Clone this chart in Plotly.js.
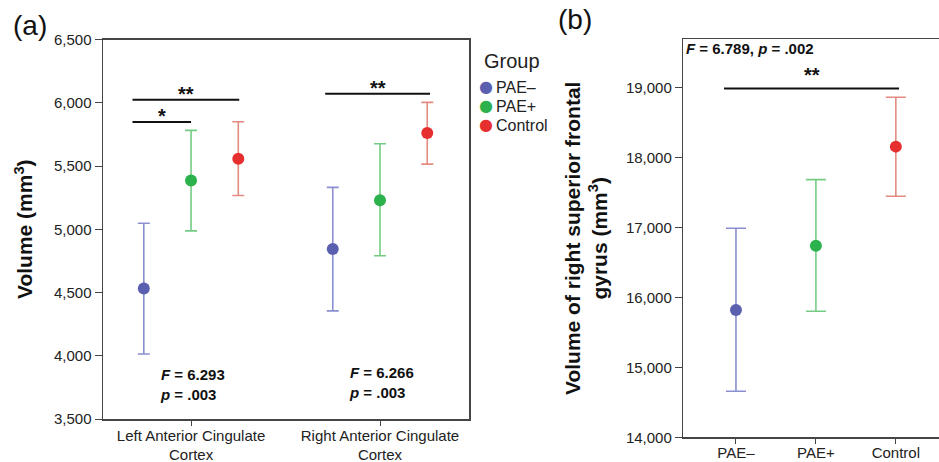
<!DOCTYPE html>
<html>
<head>
<meta charset="utf-8">
<script src="https://cdn.plot.ly/plotly-3.0.1.min.js"></script>
<style>html,body{margin:0;padding:0;background:#fff;}#chart{width:939px;height:462px;}</style>
</head>
<body>
<div id="chart"></div>
<script>
// ---------- data ----------
const groups = ['PAE\u2013', 'PAE+', 'Control'];
const regionsA = ['Left Anterior Cingulate<br>Cortex', 'Right Anterior Cingulate<br>Cortex'];

// Panel (a): volume (mm3), mean and error-bar ends per region
const aMeanPAEminus  = [4532, 4843];
const aUpperPAEminus = [5048, 5331];
const aLowerPAEminus = [4014, 4355];
const aMeanPAEplus   = [5386, 5230];
const aUpperPAEplus  = [5782, 5676];
const aLowerPAEplus  = [4987, 4790];
const aMeanControl   = [5557, 5760];
const aUpperControl  = [5850, 6003];
const aLowerControl  = [5267, 5515];

// Panel (b): right superior frontal gyrus
const bMean  = [15821, 16741, 18157];
const bUpper = [16990, 17685, 18864];
const bLower = [14658, 15803, 17448];

// significance brackets, panel (a)
const sigAx0 = [-0.31, -0.31, 0.71];
const sigAx1 = [0.0, 0.255, 1.265];
const sigAy  = [5847, 6024, 6071];
const sigAlabel = ['*', '**', '**'];
// significance bracket, panel (b)
const sigBx0 = [-0.15];
const sigBx1 = [2.04];
const sigBy  = [18990];
const sigBlabel = ['**'];

const statsA = ['<b><i>F</i> = 6.293</b><br><b><i>p</i> = .003</b>', '<b><i>F</i> = 6.266</b><br><b><i>p</i> = .003</b>'];
const statsB = '<b><i>F</i> = 6.789, <i>p</i> = .002</b>';
const legendTitle = 'Group';

// ---------- styles ----------
const markerColors = ['#5a5fb0', '#2bb24c', '#e63030'];
const barColors = ['#8a8fd2', '#74cc84', '#e58a80'];
const FONT = 'Liberation Sans, Arial, Helvetica, sans-serif';
const offsets = [-0.25, 0, 0.25];

const aMeans = [aMeanPAEminus, aMeanPAEplus, aMeanControl];
const aUppers = [aUpperPAEminus, aUpperPAEplus, aUpperControl];
const aLowers = [aLowerPAEminus, aLowerPAEplus, aLowerControl];

const traces = [];
groups.forEach((g, gi) => {
  const xs = aMeans[gi].map((_, ri) => ri + offsets[gi]);
  traces.push({
    type: 'scatter', mode: 'markers', name: g, legendgroup: g, showlegend: false,
    x: xs, y: aMeans[gi],
    marker: {color: markerColors[gi], size: 12},
    error_y: {type: 'data', symmetric: false,
      array: aUppers[gi].map((u, i) => u - aMeans[gi][i]),
      arrayminus: aMeans[gi].map((m, i) => m - aLowers[gi][i]),
      color: barColors[gi], thickness: 1.6, width: 6},
    xaxis: 'x', yaxis: 'y'
  });
});
groups.forEach((g, gi) => {
  traces.push({
    type: 'scatter', mode: 'markers', name: g, legendgroup: g, showlegend: false,
    x: [gi], y: [bMean[gi]],
    marker: {color: markerColors[gi], size: 12},
    error_y: {type: 'data', symmetric: false,
      array: [bUpper[gi] - bMean[gi]],
      arrayminus: [bMean[gi] - bLower[gi]],
      color: barColors[gi], thickness: 1.6, width: 10},
    xaxis: 'x2', yaxis: 'y2'
  });
});

const shapes = [];
const annotations = [];
sigAx0.forEach((x0, i) => {
  shapes.push({type: 'line', xref: 'x', yref: 'y', x0: x0, x1: sigAx1[i], y0: sigAy[i], y1: sigAy[i],
    line: {color: '#111', width: 2}});
  annotations.push({xref: 'x', yref: 'y', x: (x0 + sigAx1[i]) / 2, y: sigAy[i], text: '<b>' + sigAlabel[i] + '</b>',
    showarrow: false, yanchor: 'bottom', yshift: -7, font: {family: FONT, size: 20, color: '#111'}});
});
sigBx0.forEach((x0, i) => {
  shapes.push({type: 'line', xref: 'x2', yref: 'y2', x0: x0, x1: sigBx1[i], y0: sigBy[i], y1: sigBy[i],
    line: {color: '#111', width: 2}});
  annotations.push({xref: 'x2', yref: 'y2', x: (x0 + sigBx1[i]) / 2, y: sigBy[i], text: '<b>' + sigBlabel[i] + '</b>',
    showarrow: false, yanchor: 'bottom', yshift: 0, font: {family: FONT, size: 20, color: '#111'}});
});
annotations.push({xref: 'x', yref: 'y', x: -0.175, y: 3775, text: statsA[0], align: 'left', xanchor: 'left',
  showarrow: false, font: {family: FONT, size: 15, color: '#111'}});
annotations.push({xref: 'x', yref: 'y', x: 0.825, y: 3787, text: statsA[1], align: 'left', xanchor: 'left',
  showarrow: false, font: {family: FONT, size: 15, color: '#111'}});
annotations.push({xref: 'x2 domain', yref: 'y2 domain', x: 0, y: 1, xanchor: 'left', yanchor: 'top', xshift: 1, yshift: 1,
  text: statsB, showarrow: false, font: {family: FONT, size: 15, color: '#111'}});
annotations.push({xref: 'paper', yref: 'paper', x: 11 / 939, y: 1 - 25 / 462, xanchor: 'left', yanchor: 'middle',
  text: '(a)', showarrow: false, font: {family: FONT, size: 28, color: '#111'}});
annotations.push({xref: 'paper', yref: 'paper', x: 556 / 939, y: 1 - 19.5 / 462, xanchor: 'left', yanchor: 'middle',
  text: '(b)', showarrow: false, font: {family: FONT, size: 28, color: '#111'}});

// legend (drawn as text)
annotations.push({xref: 'paper', yref: 'paper', x: 482 / 939, y: 1 - 61 / 462, xanchor: 'left', yanchor: 'middle',
  text: legendTitle, showarrow: false, font: {family: FONT, size: 20, color: '#222'}});
const legendRowY = [87, 106.5, 126];
groups.forEach((g, gi) => {
  annotations.push({xref: 'paper', yref: 'paper', x: 486 / 939, y: 1 - legendRowY[gi] / 462, xanchor: 'center', yanchor: 'middle',
    text: '\u25CF', showarrow: false, yshift: 1, font: {family: 'DejaVu Sans', size: 16, color: markerColors[gi]}});
  annotations.push({xref: 'paper', yref: 'paper', x: 494 / 939, y: 1 - legendRowY[gi] / 462, xanchor: 'left', yanchor: 'middle',
    text: g, showarrow: false, font: {family: FONT, size: 16, color: '#222'}});
});

const axLine = '#454545';
const tickFont = {family: FONT, size: 15, color: '#222'};
const layout = {
  width: 939, height: 462,
  margin: {l: 0, r: 0, t: 0, b: 0},
  paper_bgcolor: '#fff', plot_bgcolor: '#fff',
  font: {family: FONT, color: '#111'},
  showlegend: false,
  xaxis: {domain: [103 / 939, 469 / 939], range: [-0.466, 1.471], tickvals: [0, 1], ticktext: regionsA,
    showgrid: false, zeroline: false, showline: true, mirror: true, linecolor: axLine, linewidth: 1.5,
    ticks: 'outside', ticklen: 5, tickcolor: axLine, tickfont: tickFont, anchor: 'y', ticklabelstandoff: -3},
  yaxis: {domain: [43 / 462, 422.5 / 462], range: [3500, 6500], tickvals: [3500, 4000, 4500, 5000, 5500, 6000, 6500],
    tickformat: ',', showgrid: false, zeroline: false, showline: true, mirror: true, linecolor: axLine, linewidth: 1.5,
    ticks: 'outside', ticklen: 7, tickcolor: axLine, tickfont: tickFont, anchor: 'x',
    title: {text: '<b>Volume (mm<sup>3</sup>)</b>', font: {family: FONT, size: 21, color: '#111'}, standoff: 15}},
  xaxis2: {domain: [683.3 / 939, 1], range: [-0.659, 2.54], tickvals: [0, 1, 2], ticktext: groups,
    showgrid: false, zeroline: false, showline: true, mirror: true, linecolor: axLine, linewidth: 1.5,
    ticks: 'outside', ticklen: 5, tickcolor: axLine, tickfont: tickFont, anchor: 'y2', ticklabelstandoff: -4},
  yaxis2: {domain: [24.7 / 462, 422.7 / 462], range: [14000, 19692], tickvals: [14000, 15000, 16000, 17000, 18000, 19000],
    tickformat: ',', showgrid: false, zeroline: false, showline: true, mirror: false, linecolor: axLine, linewidth: 1.5,
    ticks: 'outside', ticklen: 7, tickcolor: axLine, tickfont: tickFont, anchor: 'x2',
    title: {text: '<b>Volume of right superior frontal<br>gyrus (mm<sup>3</sup>)</b>', font: {family: FONT, size: 21, color: '#111'}, standoff: 12}},
  shapes: shapes,
  annotations: annotations
};

Plotly.newPlot('chart', traces, layout, {staticPlot: true, displayModeBar: false});
</script>
</body>
</html>
